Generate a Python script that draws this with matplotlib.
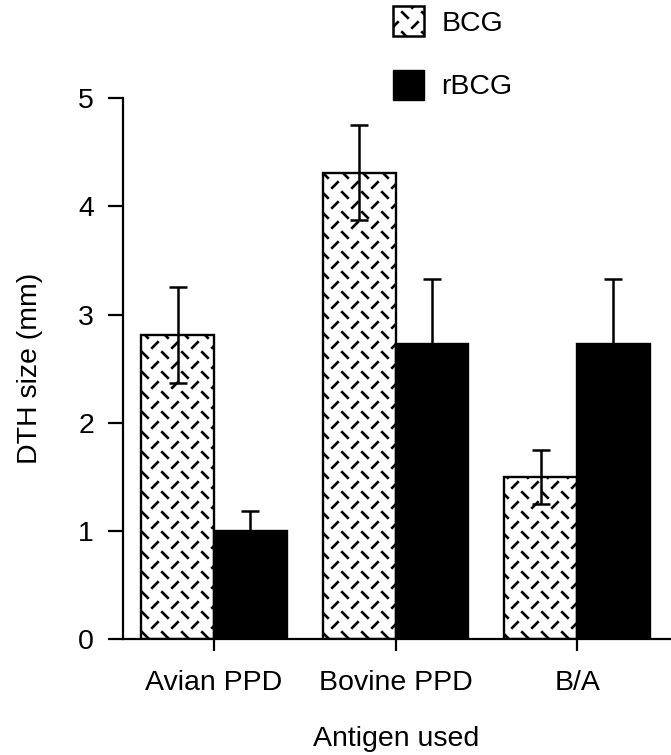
import numpy as np
import matplotlib
matplotlib.use("Agg")
import matplotlib.pyplot as plt
import matplotlib.hatch as mhatch
from matplotlib.path import Path
from matplotlib.patches import Patch

# ---- data ----
categories = ["Avian PPD", "Bovine PPD", "B/A"]
bcg_values = [2.81, 4.31, 1.50]
bcg_errors = [0.44, 0.44, 0.25]
rbcg_values = [1.00, 2.73, 2.73]
rbcg_errors = [0.18, 0.60, 0.60]
series_labels = ["BCG", "rBCG"]
yticks = [0, 1, 2, 3, 4, 5]

# ---- custom dash hatch (alternating "\" and "/" short dashes) ----
DASH_HATCH = "/.\\"
_orig_get_path = mhatch.get_path


def _dash_get_path(hatchpattern, density=6):
    if hatchpattern != DASH_HATCH:
        return _orig_get_path(hatchpattern, density)
    n = 5
    d = 0.028
    verts = []
    codes = []
    for i in range(n):
        for j in range(n):
            cx, cy = (i + 0.25) / n, (j + 0.25) / n
            verts += [(cx - d, cy + d), (cx + d, cy - d)]
            codes += [Path.MOVETO, Path.LINETO]
            cx2, cy2 = (i + 0.75) / n, (j + 0.75) / n
            verts += [(cx2 - d, cy2 - d), (cx2 + d, cy2 + d)]
            codes += [Path.MOVETO, Path.LINETO]
    return Path(np.array(verts), np.array(codes, dtype=Path.code_type))


mhatch.get_path = _dash_get_path

plt.rcParams["font.family"] = ["Liberation Sans", "DejaVu Sans"]
plt.rcParams["hatch.linewidth"] = 1.9
plt.rcParams["hatch.color"] = "black"

FS = 20.5

fig = plt.figure(figsize=(6.71, 7.55), dpi=100)
ax = fig.add_axes([0.183, 0.1536, 0.815, 0.7164])

x = np.arange(len(categories))
w = 0.40

ax.bar(x - w / 2, bcg_values, width=w, color="white", edgecolor="black",
       linewidth=1.7, hatch=DASH_HATCH, zorder=2)
ax.bar(x + w / 2, rbcg_values, width=w, color="black", edgecolor="black",
       linewidth=1.7, zorder=2)

ax.errorbar(x - w / 2, bcg_values, yerr=bcg_errors, fmt="none", ecolor="black",
            elinewidth=1.8, capsize=6.8, capthick=1.8, zorder=3)
ax.errorbar(x + w / 2, rbcg_values, yerr=rbcg_errors, fmt="none", ecolor="black",
            elinewidth=1.8, capsize=6.8, capthick=1.8, zorder=3)

ax.set_xlim(-0.503, 2.51)
ax.set_ylim(0, 5)
ax.set_yticks(yticks)
ax.set_xticks(x)
ax.set_xticklabels(categories)

for s in ["top", "right"]:
    ax.spines[s].set_visible(False)
for s in ["left", "bottom"]:
    ax.spines[s].set_linewidth(1.6)

ax.tick_params(axis="y", direction="out", length=10.8, width=1.6,
               labelsize=FS, pad=10)
ax.tick_params(axis="x", direction="out", length=8.6, width=1.6,
               labelsize=FS, pad=14)

ax.set_ylabel("DTH size (mm)", fontsize=FS, labelpad=25)
ax.set_xlabel("Antigen used", fontsize=FS, labelpad=21)

handles = [Patch(facecolor="white", edgecolor="black", linewidth=1.8,
                 hatch=DASH_HATCH),
           Patch(facecolor="black", edgecolor="black")]
fig.legend(handles, series_labels, loc="upper left",
           bbox_to_anchor=(0.573, 1.003), frameon=False, fontsize=FS,
           handlelength=1.1, handleheight=1.25, handletextpad=0.6,
           labelspacing=1.15, borderaxespad=0, borderpad=0.3)

fig.savefig("out.png", dpi=100)
